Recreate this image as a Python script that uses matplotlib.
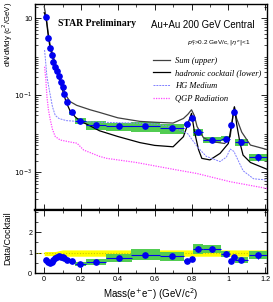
import matplotlib
matplotlib.use('Agg')
import matplotlib.pyplot as plt
from matplotlib.patches import Rectangle
from matplotlib.ticker import FixedLocator, MultipleLocator, NullFormatter
import numpy as np

# data points (bin centers, half widths, values, stat errors, relative sys)
mass = [0.01, 0.02, 0.03, 0.04, 0.05, 0.06, 0.07, 0.08, 0.09, 0.10, 0.11,
        0.125, 0.15, 0.195, 0.28, 0.405, 0.55, 0.695, 0.775, 0.80, 0.835,
        0.91, 0.985, 1.015, 1.03, 1.07, 1.16]
half_w = [0.005, 0.005, 0.005, 0.005, 0.005, 0.005, 0.005, 0.005, 0.005, 0.005, 0.005,
          0.01, 0.015, 0.03, 0.055, 0.07, 0.08, 0.065, 0.015, 0.01, 0.025,
          0.05, 0.025, 0.005, 0.01, 0.035, 0.05]
yield_data = [11.0, 3.1, 1.66, 1.11, 0.75, 0.55, 0.43, 0.32, 0.225, 0.16, 0.106,
              0.068, 0.036, 0.022, 0.017, 0.0157, 0.0157, 0.0139, 0.0177, 0.026, 0.011,
              0.0069, 0.0075, 0.0166, 0.0375, 0.006, 0.0025]
stat_rel = [0.02, 0.02, 0.02, 0.02, 0.03, 0.03, 0.03, 0.03, 0.04, 0.04, 0.05,
            0.05, 0.06, 0.06, 0.08, 0.08, 0.1, 0.1, 0.12, 0.1, 0.12,
            0.12, 0.12, 0.1, 0.08, 0.15, 0.2]
sys_rel = [0.05, 0.05, 0.05, 0.05, 0.05, 0.05, 0.06, 0.06, 0.06, 0.07, 0.08,
           0.12, 0.15, 0.2, 0.28, 0.25, 0.3, 0.28, 0.1, 0.1, 0.2,
           0.18, 0.15, 0.08, 0.08, 0.2, 0.22]
ratio = [0.65, 0.55, 0.5, 0.55, 0.65, 0.73, 0.8, 0.82, 0.8, 0.76, 0.72,
         0.66, 0.57, 0.45, 0.55, 0.73, 0.89, 0.81, 0.6, 0.67, 1.17,
         1.17, 0.94, 0.57, 0.76, 0.64, 0.87]

# model curves
sum_m = [0.0, 0.004, 0.013, 0.022, 0.031, 0.05, 0.068, 0.086, 0.103, 0.122, 0.14, 0.176,
         0.25, 0.3, 0.4, 0.52, 0.6, 0.7, 0.756, 0.78, 0.80, 0.815, 0.83, 0.865, 0.91,
         0.98, 1.01, 1.025, 1.033, 1.045, 1.073, 1.12, 1.21]
sum_v = [20, 16, 9, 4.1, 2.2, 1.0, 0.5, 0.28, 0.15, 0.093, 0.069, 0.055,
         0.042, 0.036, 0.026, 0.021, 0.02, 0.019, 0.025, 0.032, 0.042, 0.03, 0.0155, 0.0079, 0.0063,
         0.0056, 0.0084, 0.03, 0.05, 0.025, 0.011, 0.0051, 0.0039]
cock_m = [0.0, 0.005, 0.013, 0.022, 0.031, 0.05, 0.068, 0.086, 0.103, 0.12, 0.14, 0.17,
          0.2, 0.25, 0.3, 0.4, 0.52, 0.6, 0.7, 0.756, 0.78, 0.80, 0.815, 0.838, 0.856,
          0.9, 0.955, 1.0, 1.02, 1.033, 1.045, 1.064, 1.08, 1.12, 1.21]
cock_v = [14, 12, 8, 3.5, 1.8, 0.8, 0.42, 0.23, 0.12, 0.065, 0.04, 0.027,
          0.021, 0.016, 0.012, 0.0085, 0.0059, 0.005, 0.0046, 0.0084, 0.018, 0.034, 0.012, 0.0039, 0.0023,
          0.0021, 0.0031, 0.0056, 0.02, 0.05, 0.018, 0.0056, 0.0028, 0.0018, 0.0012]
hg_m = [0.002, 0.015, 0.03, 0.045, 0.06, 0.08, 0.12, 0.18, 0.3, 0.5, 0.6, 0.7, 0.75, 0.78,
        0.83, 0.88, 0.92, 0.955, 0.99, 1.01, 1.03, 1.08, 1.137, 1.21]
hg_v = [1.5, 0.3, 0.12, 0.05, 0.03, 0.025, 0.022, 0.021, 0.02, 0.019, 0.018, 0.015, 0.0116, 0.010,
        0.0047, 0.0026, 0.0022, 0.0019, 0.0025, 0.004, 0.0035, 0.0011, 0.00068, 0.00063]
qgp_m = [0.002, 0.009, 0.015, 0.023, 0.033, 0.045, 0.06, 0.087, 0.15, 0.178, 0.214, 0.3,
         0.34, 0.5, 0.7, 0.83, 1.01, 1.21]
qgp_v = [0.55, 0.25, 0.09, 0.042, 0.023, 0.013, 0.0085, 0.0069, 0.006, 0.0057, 0.0038, 0.0026,
         0.0023, 0.0018, 0.0012, 0.00093, 0.00057, 0.00038]

# cocktail uncertainty band in ratio panel
band_m = [0.0, 0.06, 0.1, 1.21]
band_lo = [0.85, 0.85, 0.82, 0.82]
band_hi = [1.05, 1.05, 1.13, 1.13]

green = '#52cc52'
blue = '#0000f0'
sans = 'Liberation Sans'
serif = 'Liberation Serif'

fig = plt.figure(figsize=(2.73, 3.02), dpi=100)
ax = fig.add_axes([35/273, 92/302, 232/273, 206/302])
axr = fig.add_axes([35/273, 29/302, 232/273, 63/302])

mass = np.array(mass); half_w = np.array(half_w)
yd = np.array(yield_data); sysr = np.array(sys_rel); rt = np.array(ratio)

# top panel
for m, w, v, s in zip(mass, half_w, yd, sysr):
    ax.add_patch(Rectangle((m - w, v * (1 - s)), 2 * w, v * 2 * s,
                           facecolor=green, edgecolor='none', zorder=2))
ax.plot(sum_m, sum_v, color='#404040', lw=0.9, zorder=3, label='Sum (upper)')
ax.plot(cock_m, cock_v, color='black', lw=0.9, zorder=3, label='hadronic cocktail (lower)')
ax.plot(hg_m, hg_v, color='#8080ff', lw=0.7, ls=(0, (2, 1)), zorder=3, label='HG Medium')
ax.plot(qgp_m, qgp_v, color='#ff44ff', lw=0.9, ls=(0, (1, 1)), zorder=3, label='QGP Radiation')
ax.errorbar(mass, yd, xerr=half_w, yerr=yd * np.array(stat_rel), fmt='o', color=blue,
            ms=3.8, lw=0.8, capsize=0, zorder=4)

ax.set_yscale('log')
ax.set_xlim(-0.05, 1.21)
ax.set_ylim(1.05e-4, 23.5)
ax.yaxis.set_major_locator(FixedLocator([1e-3, 1e-1, 10]))
ax.yaxis.set_minor_locator(FixedLocator(
    [k * 10.0**e for e in range(-4, 2) for k in range(1, 10) if k * 10.0**e not in (1e-3, 1e-1, 10)]))
ax.set_yticklabels(['$10^{-3}$', '$10^{-1}$', '10'])
ax.yaxis.set_minor_formatter(NullFormatter())
ax.xaxis.set_major_locator(MultipleLocator(0.2))
ax.xaxis.set_minor_locator(MultipleLocator(0.1))
ax.tick_params(labelbottom=False)

ax.text(0.269, 0.905, 'STAR Preliminary', transform=ax.transAxes, ha='center', va='center',
        family=serif, weight='bold', fontsize=7)
ax.text(0.723, 0.898, 'Au+Au 200 GeV Central', transform=ax.transAxes, ha='center', va='center',
        family=sans, fontsize=6.9)
ax.text(0.79, 0.809, r'$p_T^e$>0.2 GeV/c, $|\eta^e|$<1', transform=ax.transAxes,
        ha='center', va='center', family=sans, fontsize=4.6)
ax.legend(loc='upper left', bbox_to_anchor=(0.509, 0.745), frameon=False, borderpad=0,
          borderaxespad=0, handlelength=2.0, handletextpad=0.6, labelspacing=0.55,
          prop={'family': serif, 'style': 'italic', 'size': 6.1})

# ratio panel
axr.fill_between(band_m, band_lo, band_hi, color='#ffff00', lw=0, zorder=1)
axr.axhline(1.0, color='#c8c800', lw=0.8, ls=(0, (1, 1.5)), zorder=2)
for m, w, v, s in zip(mass, half_w, rt, sysr):
    axr.add_patch(Rectangle((m - w, v * (1 - s)), 2 * w, v * 2 * s,
                            facecolor=green, edgecolor='none', zorder=3))
axr.errorbar(mass, rt, xerr=half_w, yerr=rt * np.array(stat_rel), fmt='o', color=blue,
             ms=3.8, lw=0.8, capsize=0, zorder=4)
axr.set_xlim(-0.05, 1.21)
axr.set_ylim(0, 3.08)
axr.yaxis.set_major_locator(FixedLocator([0, 1, 2]))
axr.yaxis.set_minor_locator(MultipleLocator(0.5))
axr.xaxis.set_major_locator(MultipleLocator(0.2))
axr.xaxis.set_minor_locator(MultipleLocator(0.1))
axr.set_xticks([0, 0.2, 0.4, 0.6, 0.8, 1.0, 1.2])
axr.set_xticklabels(['0', '0.2', '0.4', '0.6', '0.8', '1', '1.2'])

for a in (ax, axr):
    a.tick_params(which='both', direction='in', top=True, right=True, labelsize=5.2, pad=2)
    a.tick_params(which='major', length=4, width=0.6)
    a.tick_params(which='minor', length=2, width=0.5)
    for sp in a.spines.values():
        sp.set_linewidth(1.0)
    for lab in a.get_xticklabels() + a.get_yticklabels():
        lab.set_family(sans)
ax.spines['bottom'].set_linewidth(1.6)
axr.spines['top'].set_linewidth(1.6)

fig.text(0.03, 0.993, r'dN/dMdy (c$^2$/GeV)', rotation=90, ha='center', va='top',
         family=sans, fontsize=5.6)
fig.text(0.03, 0.30, 'Data/Cocktail', rotation=90, ha='center', va='top',
         family=sans, fontsize=6.5)
fig.text(151/273, 0.025, r'Mass(e$^{+}$e$^{-}$) (GeV/c$^{2}$)', ha='center', va='center',
         family=sans, fontsize=7)

fig.savefig('out.png', dpi=100)
